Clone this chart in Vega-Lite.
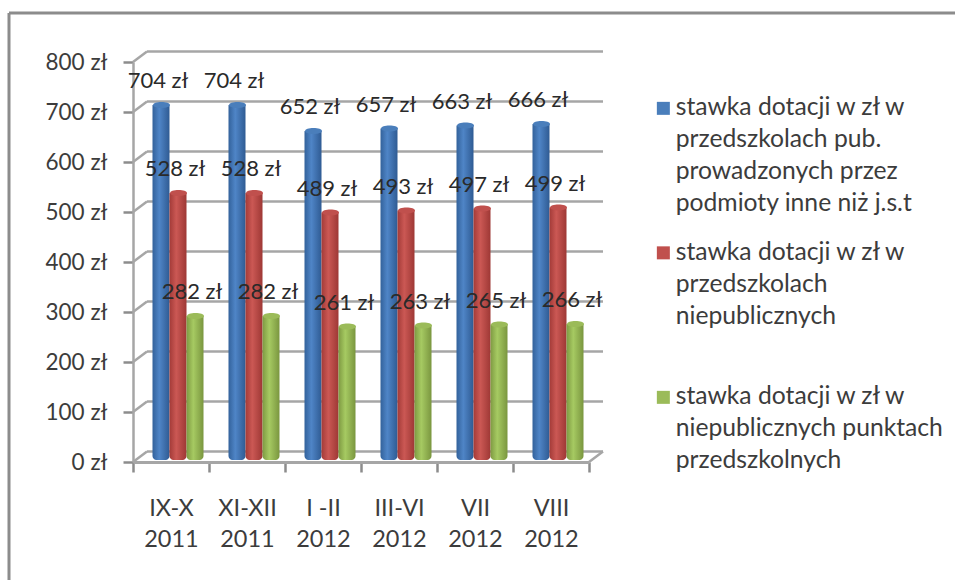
{"$schema":"https://vega.github.io/schema/vega-lite/v6.json","width":456,"height":400,"autosize":{"type":"none"},"padding":{"left":133,"top":62,"right":366,"bottom":118},"background":"#ffffff","config":{"view":{"stroke":null},"font":"Lato","text":{"font":"Lato"},"style":{"guide-label":{"lineHeight":32}}},"datasets":{"rates":[{"okres":"IX-X 2011","seria":"stawka dotacji w zł w przedszkolach pub. prowadzonych przez podmioty inne niż j.s.t","stawka":704},{"okres":"XI-XII 2011","seria":"stawka dotacji w zł w przedszkolach pub. prowadzonych przez podmioty inne niż j.s.t","stawka":704},{"okres":"I -II 2012","seria":"stawka dotacji w zł w przedszkolach pub. prowadzonych przez podmioty inne niż j.s.t","stawka":652},{"okres":"III-VI 2012","seria":"stawka dotacji w zł w przedszkolach pub. prowadzonych przez podmioty inne niż j.s.t","stawka":657},{"okres":"VII 2012","seria":"stawka dotacji w zł w przedszkolach pub. prowadzonych przez podmioty inne niż j.s.t","stawka":663},{"okres":"VIII 2012","seria":"stawka dotacji w zł w przedszkolach pub. prowadzonych przez podmioty inne niż j.s.t","stawka":666},{"okres":"IX-X 2011","seria":"stawka dotacji w zł w przedszkolach niepublicznych","stawka":528},{"okres":"XI-XII 2011","seria":"stawka dotacji w zł w przedszkolach niepublicznych","stawka":528},{"okres":"I -II 2012","seria":"stawka dotacji w zł w przedszkolach niepublicznych","stawka":489},{"okres":"III-VI 2012","seria":"stawka dotacji w zł w przedszkolach niepublicznych","stawka":493},{"okres":"VII 2012","seria":"stawka dotacji w zł w przedszkolach niepublicznych","stawka":497},{"okres":"VIII 2012","seria":"stawka dotacji w zł w przedszkolach niepublicznych","stawka":499},{"okres":"IX-X 2011","seria":"stawka dotacji w zł w niepublicznych punktach przedszkolnych","stawka":282},{"okres":"XI-XII 2011","seria":"stawka dotacji w zł w niepublicznych punktach przedszkolnych","stawka":282},{"okres":"I -II 2012","seria":"stawka dotacji w zł w niepublicznych punktach przedszkolnych","stawka":261},{"okres":"III-VI 2012","seria":"stawka dotacji w zł w niepublicznych punktach przedszkolnych","stawka":263},{"okres":"VII 2012","seria":"stawka dotacji w zł w niepublicznych punktach przedszkolnych","stawka":265},{"okres":"VIII 2012","seria":"stawka dotacji w zł w niepublicznych punktach przedszkolnych","stawka":266}],"ticks":[{"t":0},{"t":100},{"t":200},{"t":300},{"t":400},{"t":500},{"t":600},{"t":700},{"t":800}]},"layer":[{"data":{"name":"ticks"},"mark":{"type":"rule","color":"#a6a6a6","strokeWidth":2.5,"xOffset":14,"x2Offset":14,"yOffset":-10.5},"encoding":{"x":{"datum":"IX-X 2011","bandPosition":0,"type":"nominal","scale":{"domain":["IX-X 2011","XI-XII 2011","I -II 2012","III-VI 2012","VII 2012","VIII 2012"],"paddingInner":0,"paddingOuter":0},"axis":{"title":null,"tickBand":"extent","labelExpr":"[slice(datum.label,0,-5),slice(datum.label,-4)]","labelAngle":0,"labelFontSize":23.5,"labelColor":"#3c3c3c","labelLineHeight":31,"labelPadding":36,"tickSize":10,"tickWidth":2.5,"tickColor":"#8c8c8c","domainColor":"#a6a6a6","domainWidth":3,"labelBaseline":"middle","labelLimit":0}},"x2":{"datum":"VIII 2012","bandPosition":1},"y":{"field":"t","type":"quantitative","scale":{"domain":[0,800]},"axis":{"title":null,"values":[0,100,200,300,400,500,600,700,800],"grid":false,"labelExpr":"datum.value+' zł'","labelFontSize":22.5,"labelColor":"#3c3c3c","labelPadding":16,"tickSize":10,"tickWidth":2.5,"tickColor":"#8c8c8c","domainColor":"#a6a6a6","domainWidth":2.5}}}},{"data":{"name":"ticks"},"mark":{"type":"rule","color":"#a6a6a6","strokeWidth":2.5,"x2Offset":14,"y2Offset":-10.5},"encoding":{"x":{"datum":"IX-X 2011","bandPosition":0,"type":"nominal"},"x2":{"datum":"IX-X 2011","bandPosition":0},"y":{"field":"t","type":"quantitative"},"y2":{"field":"t"}}},{"data":{"values":[{"t":0}]},"mark":{"type":"rule","color":"#a6a6a6","strokeWidth":2.5,"x2Offset":14,"y2Offset":-10.5},"encoding":{"x":{"datum":"VIII 2012","bandPosition":1,"type":"nominal"},"x2":{"datum":"VIII 2012","bandPosition":1},"y":{"field":"t","type":"quantitative"},"y2":{"field":"t"}}},{"data":{"values":[{"t":800}]},"mark":{"type":"rule","color":"#8c8c8c","strokeWidth":3,"xOffset":-124,"x2Offset":366,"yOffset":-49},"encoding":{"x":{"datum":"IX-X 2011","bandPosition":0,"type":"nominal"},"x2":{"datum":"VIII 2012","bandPosition":1},"y":{"field":"t","type":"quantitative"}}},{"data":{"values":[{"t":800,"b":0}]},"mark":{"type":"rule","color":"#8c8c8c","strokeWidth":3,"xOffset":-124,"x2Offset":-124,"yOffset":-49,"y2Offset":118},"encoding":{"x":{"datum":"IX-X 2011","bandPosition":0,"type":"nominal"},"x2":{"datum":"IX-X 2011","bandPosition":0},"y":{"field":"t","type":"quantitative"},"y2":{"field":"b"}}},{"data":{"name":"rates"},"transform":[{"filter":"indexof(datum.seria,'pub.')>0"}],"mark":{"type":"bar","width":17,"xOffset":-10,"yOffset":-5,"y2Offset":-2,"cornerRadiusBottomLeft":4,"cornerRadiusBottomRight":4,"color":{"gradient":"linear","x1":0,"x2":1,"y1":0,"y2":0,"stops":[{"offset":0,"color":"#33629b"},{"offset":0.4,"color":"#4f85c7"},{"offset":1,"color":"#2f5b93"}]}},"encoding":{"x":{"field":"okres","type":"nominal"},"y":{"field":"stawka","type":"quantitative","stack":null},"y2":{"datum":0}}},{"data":{"name":"rates"},"transform":[{"filter":"indexof(datum.seria,'przedszkolach niepub')>0"}],"mark":{"type":"bar","width":17,"xOffset":7,"yOffset":-5,"y2Offset":-2,"cornerRadiusBottomLeft":4,"cornerRadiusBottomRight":4,"color":{"gradient":"linear","x1":0,"x2":1,"y1":0,"y2":0,"stops":[{"offset":0,"color":"#a33b38"},{"offset":0.4,"color":"#cb5854"},{"offset":1,"color":"#9e3835"}]}},"encoding":{"x":{"field":"okres","type":"nominal"},"y":{"field":"stawka","type":"quantitative","stack":null},"y2":{"datum":0}}},{"data":{"name":"rates"},"transform":[{"filter":"indexof(datum.seria,'punktach')>0"}],"mark":{"type":"bar","width":17,"xOffset":24,"yOffset":-5,"y2Offset":-2,"cornerRadiusBottomLeft":4,"cornerRadiusBottomRight":4,"color":{"gradient":"linear","x1":0,"x2":1,"y1":0,"y2":0,"stops":[{"offset":0,"color":"#7e9a42"},{"offset":0.4,"color":"#a6ca62"},{"offset":1,"color":"#7a963f"}]}},"encoding":{"x":{"field":"okres","type":"nominal"},"y":{"field":"stawka","type":"quantitative","stack":null},"y2":{"datum":0}}},{"data":{"name":"rates"},"mark":{"type":"point","shape":"M-1,0A1,0.35 0 1 1 1,0A1,0.35 0 1 1 -1,0Z","filled":true,"size":289,"opacity":1,"yOffset":-5},"encoding":{"x":{"field":"okres","type":"nominal"},"xOffset":{"field":"seria","type":"nominal","scale":{"type":"point","padding":0,"domain":["stawka dotacji w zł w przedszkolach pub. prowadzonych przez podmioty inne niż j.s.t","stawka dotacji w zł w przedszkolach niepublicznych","stawka dotacji w zł w niepublicznych punktach przedszkolnych"],"range":[28.5,62.5]}},"y":{"field":"stawka","type":"quantitative"},"color":{"field":"seria","type":"nominal","scale":{"domain":["stawka dotacji w zł w przedszkolach pub. prowadzonych przez podmioty inne niż j.s.t","stawka dotacji w zł w przedszkolach niepublicznych","stawka dotacji w zł w niepublicznych punktach przedszkolnych"],"range":["#4a7ebb","#c0504d","#9bbb59"]},"legend":{"title":null,"orient":"none","legendX":518,"legendY":34,"symbolType":"square","symbolSize":169,"labelFontSize":24.7,"labelColor":"#3c3c3c","labelLimit":0,"labelOffset":0,"rowPadding":22.5,"labelExpr":"indexof(datum.label,'pub.')>0?['stawka dotacji w zł w','przedszkolach pub.','prowadzonych przez','podmioty inne niż j.s.t']:indexof(datum.label,'punktach')>0?['stawka dotacji w zł w','niepublicznych punktach','przedszkolnych']:['stawka dotacji w zł w','przedszkolach','niepublicznych',' ']"}}}},{"data":{"name":"rates"},"transform":[{"calculate":"datum.stawka+' zł'","as":"etykieta"}],"mark":{"type":"text","fontSize":22,"color":"#2a2a2a","dx":-3.5,"yOffset":-29,"align":"center","baseline":"middle"},"encoding":{"x":{"field":"okres","type":"nominal"},"xOffset":{"field":"seria","type":"nominal"},"y":{"field":"stawka","type":"quantitative"},"text":{"field":"etykieta"}}}]}
